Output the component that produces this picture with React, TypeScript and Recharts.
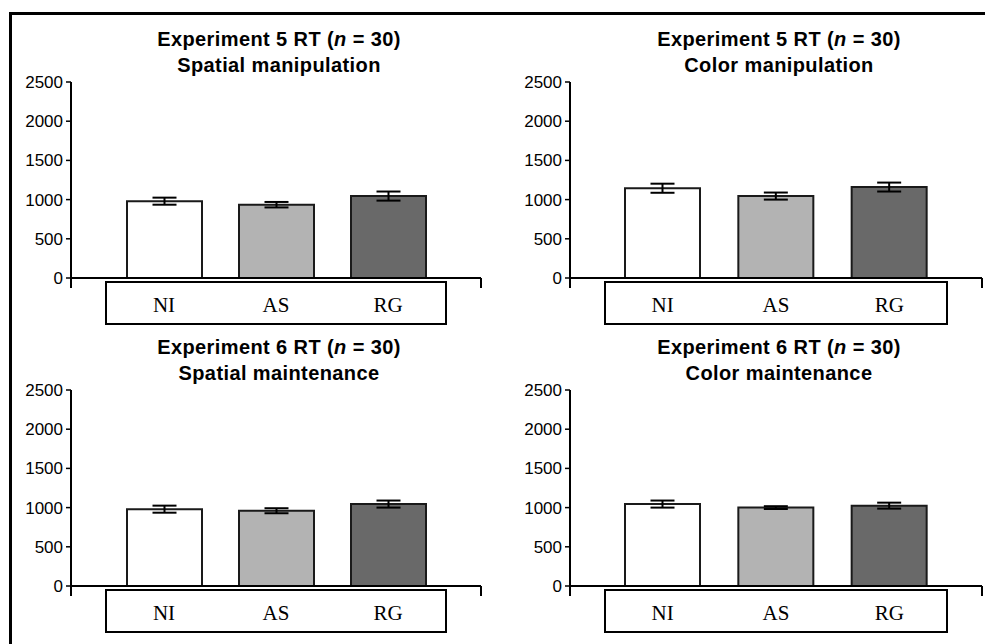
import React from "react";
import { BarChart, Bar, XAxis, YAxis, ErrorBar, Cell, Label } from "recharts";

const categories = ["NI", "AS", "RG"];
const yTicks = [0, 500, 1000, 1500, 2000, 2500];
const barFills = ["#ffffff", "#b3b3b3", "#696969"];

const exp5SpatialRT = [980, 935, 1045];
const exp5SpatialSE = [45, 35, 58];
const exp5ColorRT = [1145, 1045, 1160];
const exp5ColorSE = [58, 45, 57];
const exp6SpatialRT = [980, 960, 1045];
const exp6SpatialSE = [45, 32, 45];
const exp6ColorRT = [1045, 1000, 1025];
const exp6ColorSE = [45, 18, 38];

const SANS = '"Liberation Sans", Arial, Helvetica, sans-serif';
const SERIF = '"Liberation Serif", "Times New Roman", serif';

const CatTick = (props: any) => {
  const { x, y, payload } = props;
  return (
    <text x={x} y={y + 34} textAnchor="middle" fontFamily={SERIF} fontSize={21} fill="#000">
      {payload.value}
    </text>
  );
};

const AxisBox = (props: any) => {
  const vb = props.viewBox || {};
  const { x, y, width } = vb;
  if (x == null) return null;
  return (
    <g>
      <rect x={x + 35} y={y + 4} width={width - 70} height={42} fill="none" stroke="#000" strokeWidth={2} />
      <line x1={x} y1={y} x2={x} y2={y + 10} stroke="#000" strokeWidth={2} />
      <line x1={x + width} y1={y} x2={x + width} y2={y + 10} stroke="#000" strokeWidth={2} />
    </g>
  );
};

type PanelProps = {
  left: number;
  top: number;
  width: number;
  mLeft: number;
  mRight: number;
  padX: number;
  exp: string;
  sub: string;
  values: number[];
  errors: number[];
};

const Panel = ({ left, top, width, mLeft, mRight, padX, exp, sub, values, errors }: PanelProps) => {
  const data = categories.map((c, i) => ({ cat: c, rt: values[i], se: errors[i] }));
  const height = 330;
  const plotLeft = mLeft + 60;
  const plotRight = width - mRight;
  const cx = (plotLeft + plotRight) / 2 + 3;
  return (
    <div style={{ position: "absolute", left, top, width, height }}>
      <div
        style={{
          position: "absolute",
          left: cx - 200,
          width: 400,
          top: 26,
          textAlign: "center",
          fontFamily: SANS,
          fontWeight: "bold",
          fontSize: 20,
          lineHeight: "26px",
          letterSpacing: 0.4,
          color: "#000",
          whiteSpace: "nowrap",
        }}
      >
        <div>
          {exp} (<i>n</i> = 30)
        </div>
        <div>{sub}</div>
      </div>
      <div style={{ position: "absolute", left: 0, top: 0 }}>
        <BarChart
          width={width}
          height={height}
          data={data}
          margin={{ top: 82, left: mLeft, right: mRight, bottom: 2 }}
        >
          <YAxis
            width={60}
            domain={[0, 2500]}
            ticks={yTicks}
            interval={0}
            tickSize={5}
            tickMargin={3}
            axisLine={{ stroke: "#000", strokeWidth: 2 }}
            tickLine={{ stroke: "#000", strokeWidth: 1.5 }}
            tick={{ fill: "#000", fontSize: 17, fontFamily: SANS }}
          />
          <XAxis
            dataKey="cat"
            height={50}
            padding={{ left: padX, right: padX }}
            axisLine={{ stroke: "#000", strokeWidth: 2 }}
            tickLine={false}
            tickSize={0}
            tickMargin={0}
            interval={0}
            tick={<CatTick />}
          >
            <Label content={<AxisBox />} />
          </XAxis>
          <Bar dataKey="rt" barSize={75} stroke="#1a1a1a" strokeWidth={2} isAnimationActive={false}>
            {data.map((d, i) => (
              <Cell key={d.cat} fill={barFills[i]} />
            ))}
            <ErrorBar dataKey="se" direction="y" width={12} stroke="#000" strokeWidth={2} isAnimationActive={false} />
          </Bar>
        </BarChart>
      </div>
    </div>
  );
};

export default function App() {
  return (
    <div style={{ position: "absolute", left: 0, top: 0, width: 985, height: 644, background: "#fff", overflow: "hidden" }}>
      <div
        style={{
          position: "absolute",
          left: 9,
          top: 12,
          width: 976,
          height: 632,
          borderLeft: "3px solid #000",
          borderTop: "3px solid #000",
          boxSizing: "border-box",
        }}
      />
      <Panel left={0} top={0} width={490} mLeft={11} mRight={9} padX={37} exp="Experiment 5 RT" sub="Spatial manipulation" values={exp5SpatialRT} errors={exp5SpatialSE} />
      <Panel left={490} top={0} width={495} mLeft={20} mRight={3} padX={36} exp="Experiment 5 RT" sub="Color manipulation" values={exp5ColorRT} errors={exp5ColorSE} />
      <Panel left={0} top={308} width={490} mLeft={11} mRight={9} padX={37} exp="Experiment 6 RT" sub="Spatial maintenance" values={exp6SpatialRT} errors={exp6SpatialSE} />
      <Panel left={490} top={308} width={495} mLeft={20} mRight={3} padX={36} exp="Experiment 6 RT" sub="Color maintenance" values={exp6ColorRT} errors={exp6ColorSE} />
    </div>
  );
}
